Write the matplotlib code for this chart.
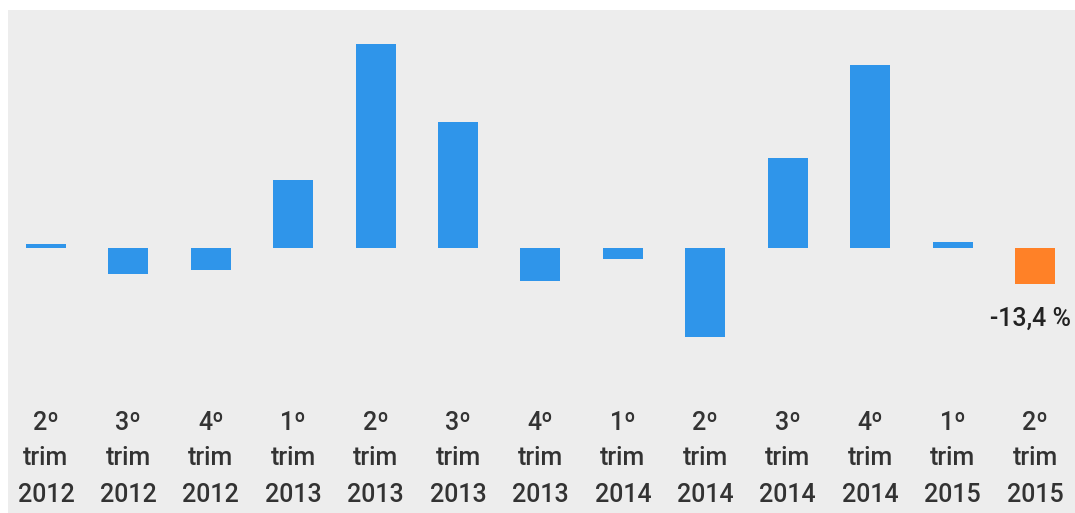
import numpy as np
import matplotlib.pyplot as plt
import matplotlib.transforms as mtransforms

# quarterly change, %
quarters = ["2º", "3º", "4º", "1º", "2º", "3º", "4º", "1º", "2º", "3º", "4º", "1º", "2º"]
years = ["2012", "2012", "2012", "2013", "2013", "2013", "2013",
         "2014", "2014", "2014", "2014", "2015", "2015"]
values = [1.5, -9.7, -8.3, 25.4, 75.9, 46.8, -12.2, -4.0, -33.0, 33.5, 67.9, 2.1, -13.4]
last_label = "-13,4 %"

blue = "#2f95ea"
orange = "#ff8127"
bg = "#ededed"
txt = "#333333"

plt.rcParams['font.family'] = ['Roboto', 'DejaVu Sans']

W, H = 1075, 513
fig = plt.figure(figsize=(W / 100, H / 100), dpi=100)
fig.patch.set_facecolor("white")

# gray panel from x=8, y=10 to the bottom-right corner
ax = fig.add_axes([8 / W, 0, 1 - 8 / W, (H - 10) / H])
ax.set_facecolor(bg)

x = np.arange(len(values))
colors = [blue] * (len(values) - 1) + [orange]
ax.bar(x, values, width=0.485, color=colors, edgecolor="none")

# zero at pixel 248 from top, 2.69 px per %
px = 2.69
ax.set_ylim(-(H - 248) / px, (248 - 10) / px)
ax.set_xlim(-0.46, len(values) - 1 + 0.485)

for s in ax.spines.values():
    s.set_visible(False)
ax.set_xticks([])
ax.set_yticks([])


def ay(py):
    return (H - py) / (H - 10)


trans = mtransforms.blended_transform_factory(ax.transData, ax.transAxes)
for i in x:
    ax.text(i, ay(430), quarters[i], transform=trans, ha="center", va="baseline",
            fontsize=18, color=txt, fontweight="medium")
    ax.text(i, ay(465), "trim", transform=trans, ha="center", va="baseline",
            fontsize=18, color=txt, fontweight="medium")
    ax.text(i, ay(502), years[i], transform=trans, ha="center", va="baseline",
            fontsize=18, color=txt, fontweight="medium")

ax.text(x[-1] - 0.06, ay(326), last_label, transform=trans, ha="center", va="baseline",
        fontsize=18, color="#222222", fontweight="medium")

fig.savefig("out.png", dpi=100, facecolor=fig.get_facecolor())
